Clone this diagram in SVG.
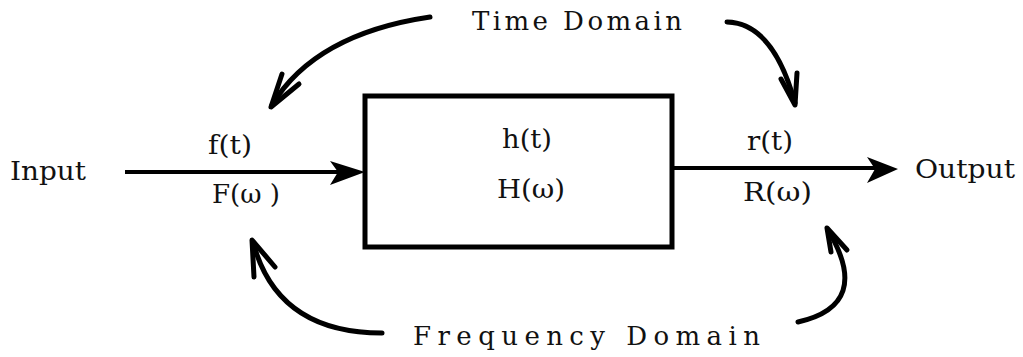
<svg xmlns="http://www.w3.org/2000/svg" width="1023" height="357" viewBox="0 0 1023 357">
<style>
text{font-family:"DejaVu Serif","Liberation Serif",serif;font-size:26px;fill:#111}
.curve{fill:none;stroke:#000;stroke-width:5;stroke-linecap:round}
.barb{fill:none;stroke:#000;stroke-width:5;stroke-linecap:round;stroke-linejoin:round}
.line{stroke:#000;stroke-width:4}
.head{fill:#000}
</style>
<rect width="1023" height="357" fill="#fff"/>
<g id="system">
<rect x="365" y="96" width="307" height="151" fill="none" stroke="#000" stroke-width="5"/>
<text x="502" y="148" textLength="50" lengthAdjust="spacingAndGlyphs">h(t)</text>
<text x="497" y="198" textLength="68" lengthAdjust="spacingAndGlyphs">H(ω)</text>
</g>
<g id="input">
<text x="10" y="180" textLength="76" lengthAdjust="spacingAndGlyphs">Input</text>
<text x="208" y="154" textLength="44" lengthAdjust="spacingAndGlyphs">f(t)</text>
<text x="212" y="203" textLength="68" lengthAdjust="spacingAndGlyphs">F(ω )</text>
</g>
<g id="output">
<text x="915" y="178" textLength="100" lengthAdjust="spacingAndGlyphs">Output</text>
<text x="747" y="150" textLength="46" lengthAdjust="spacingAndGlyphs">r(t)</text>
<text x="743" y="201" textLength="69" lengthAdjust="spacingAndGlyphs">R(ω)</text>
</g>
<g id="time-domain">
<text x="472" y="30" textLength="210" lengthAdjust="spacing">Time Domain</text>
</g>
<g id="frequency-domain">
<text x="413" y="345" textLength="347" lengthAdjust="spacing">Frequency Domain</text>
</g>
<g id="connectors">
<line class="line" x1="125" y1="172" x2="340" y2="172"/>
<path class="head" d="M365,172 L330,161 L338,172 L330,185 Z"/>
<line class="line" x1="672" y1="168" x2="875" y2="168"/>
<path class="head" d="M898,169 L867,157 L875,169 L867,183 Z"/>
<path class="curve" d="M430,17 Q315,34 272,105"/>
<path class="barb" d="M282,74 L271,107 L299,84"/>
<path class="curve" d="M727,22 Q773,23 795,103"/>
<path class="barb" d="M781,79 L795,105 L797,73"/>
<path class="curve" d="M382,333 Q277,333 253,242"/>
<path class="barb" d="M254,277 L252,240 L275,267"/>
<path class="curve" d="M798,322 Q873,305 828,230"/>
<path class="barb" d="M831,252 L827,228 L847,250"/>
</g>
</svg>
